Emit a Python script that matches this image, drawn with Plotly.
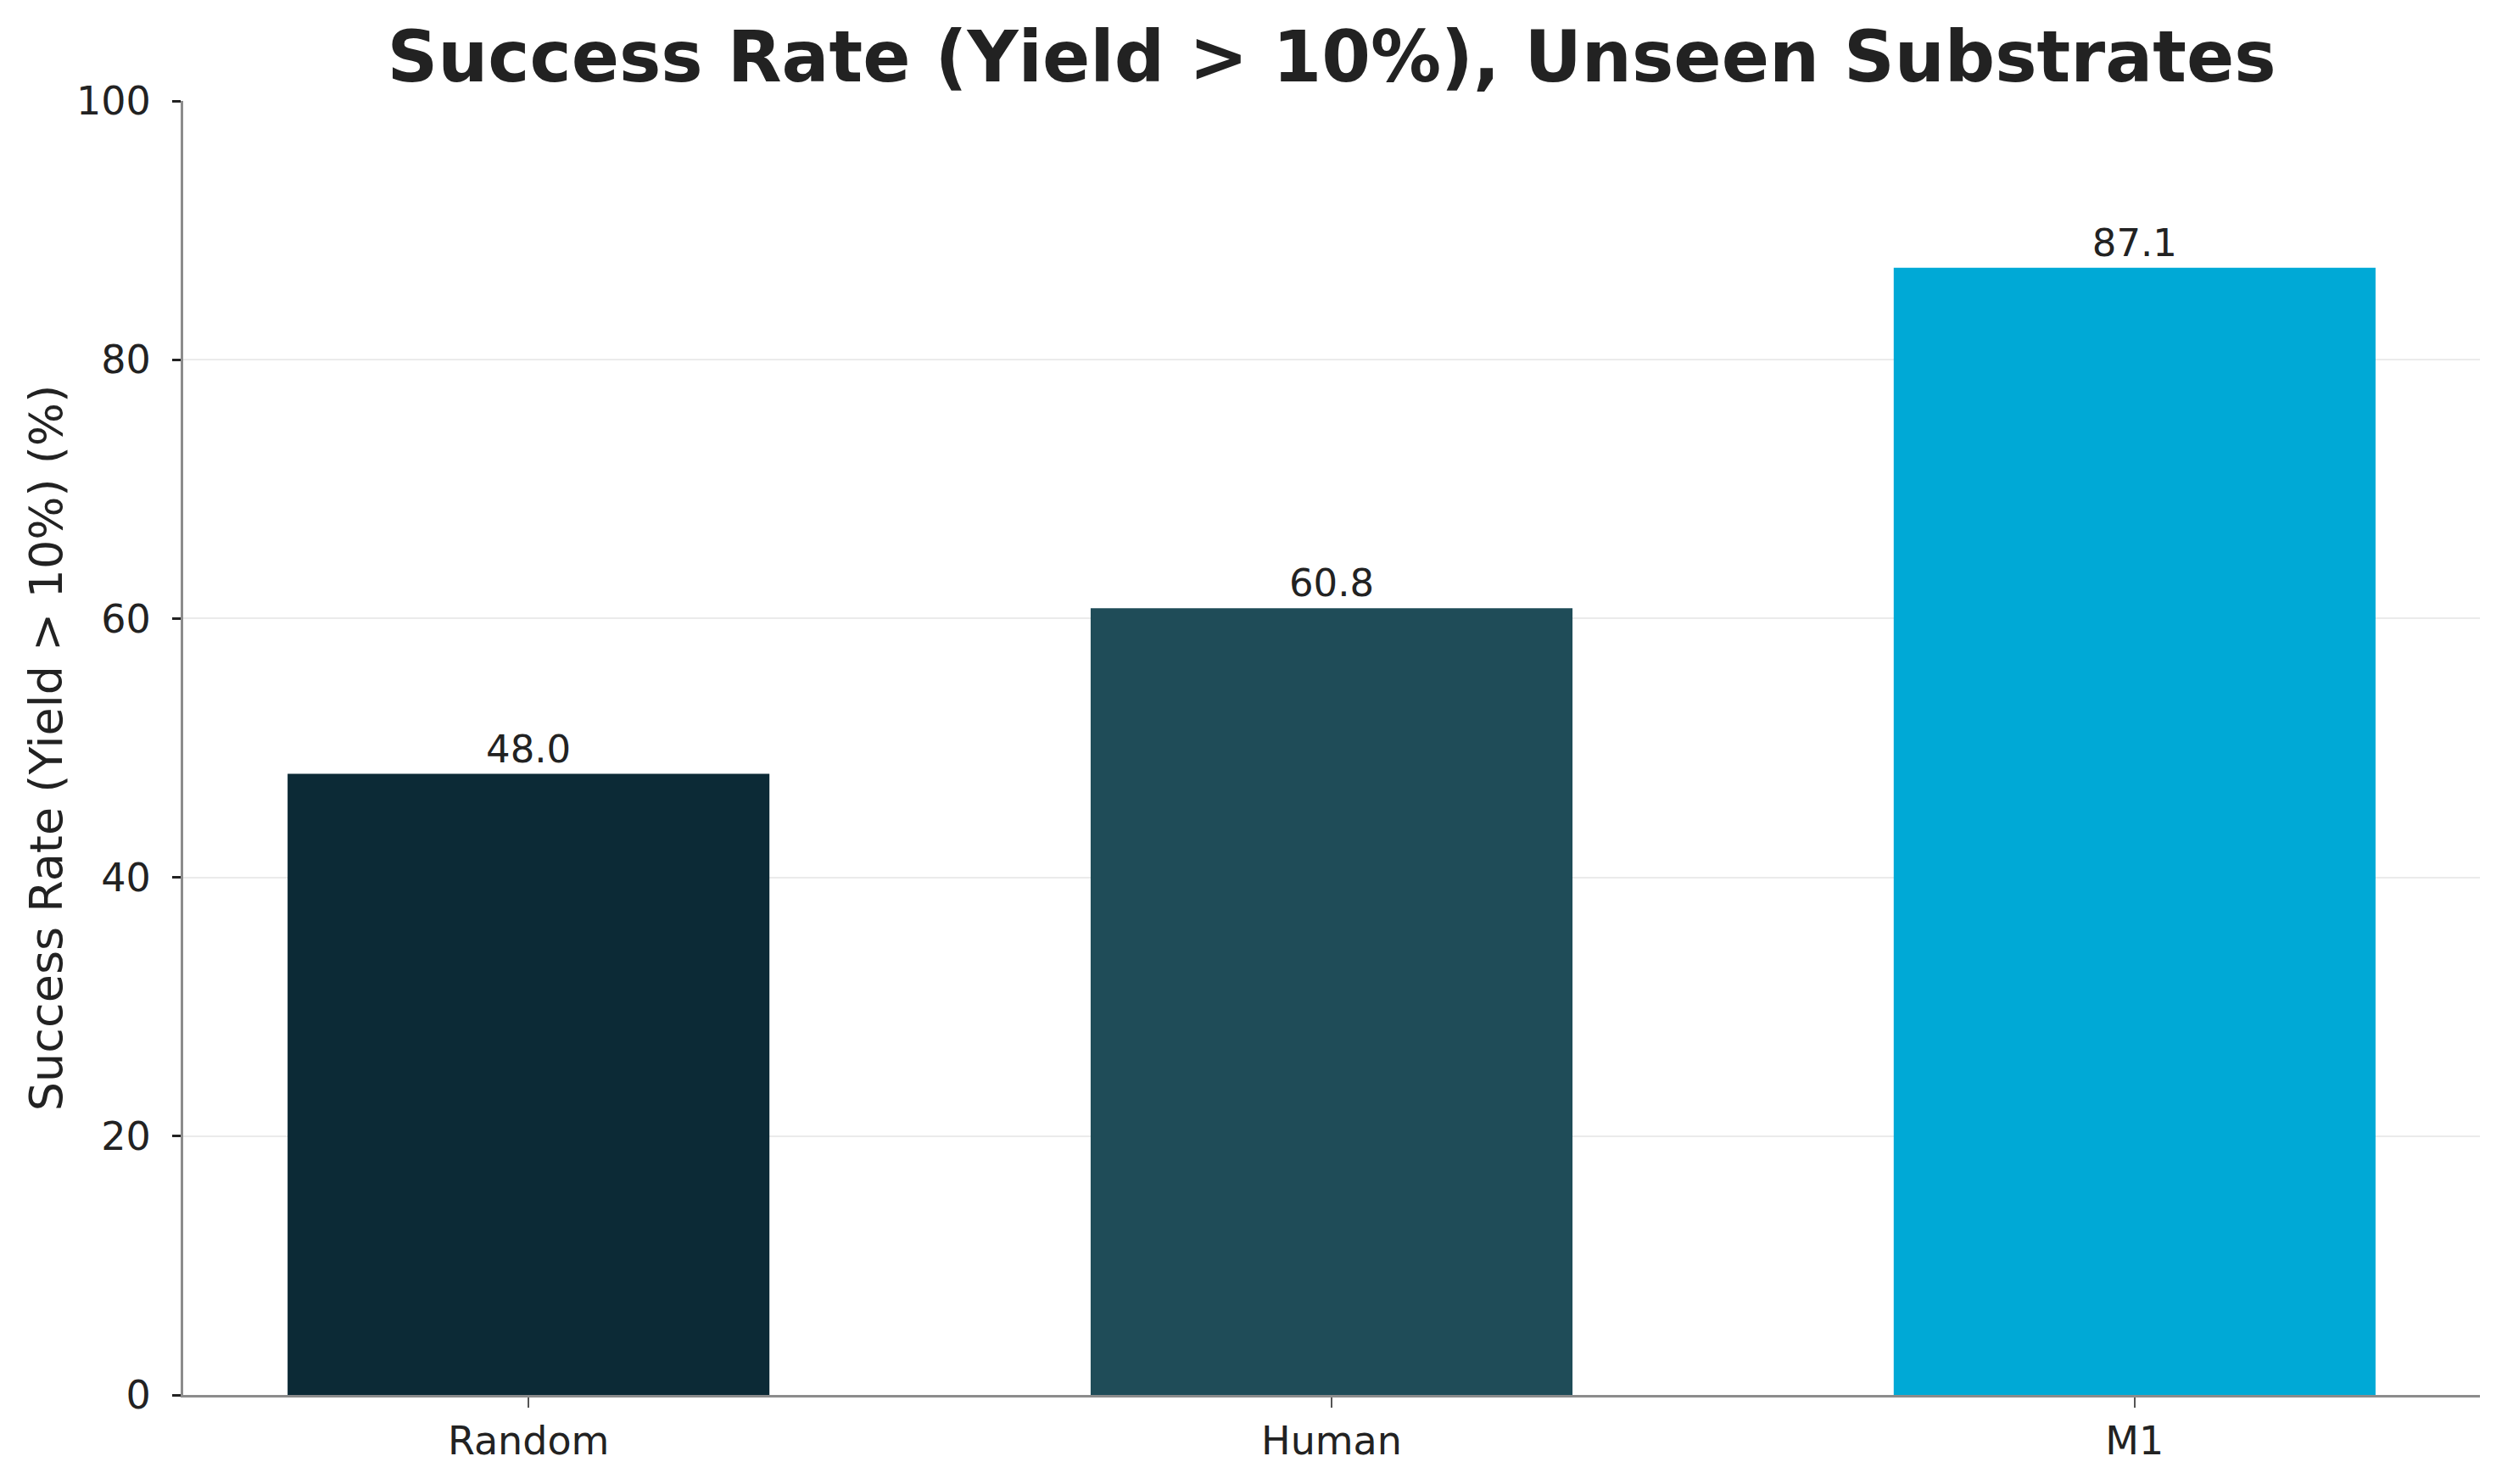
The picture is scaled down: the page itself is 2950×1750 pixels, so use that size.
import plotly.graph_objects as go

# data
methods = ['Random', 'Human', 'M1']
success_rate = [48.0, 60.8, 87.1]
bar_colors = ['#0c2a36', '#1f4c58', '#00a9d6']
y_ticks = [0, 20, 40, 60, 80, 100]

FONT = 'DejaVu Sans'
INK = '#222222'

fig = go.Figure()

fig.add_trace(go.Bar(
	x=methods, y=success_rate,
	marker_color=bar_colors, marker_line_width=0,
	width=0.6,
	texttemplate='%{y:.1f}', textposition='outside',
	textfont=dict(family=FONT, size=45, color=INK),
	cliponaxis=False,
	showlegend=False,
))

fig.update_layout(
	width=2950, height=1750,
	margin=dict(l=208, r=34, t=111, b=113),
	plot_bgcolor='white', paper_bgcolor='white',
	font=dict(family=FONT, color=INK),
	title=dict(
		text='<b>Success Rate (Yield > 10%), Unseen Substrates</b>',
		font=dict(family=FONT, size=83, color=INK),
		x=(208 + (2950 - 208 - 34) / 2) / 2950, xanchor='center',
		y=0.983, yanchor='top',
	),
	bargap=0.4,
)

fig.update_xaxes(
	range=[-0.43, 2.43],
	showline=True, linecolor='#8c8c8c', linewidth=3,
	ticks='outside', ticklen=12, tickwidth=1.5, tickcolor='#555555',
	tickfont=dict(family=FONT, size=46, color=INK),
	showgrid=False,
)

fig.update_yaxes(
	range=[0, 100],
	tickvals=y_ticks,
	showline=True, linecolor='#8c8c8c', linewidth=3,
	ticks='outside', ticklen=10, tickwidth=3, tickcolor=INK,
	tickfont=dict(family=FONT, size=46, color=INK),
	ticklabelstandoff=16,
	showgrid=True, gridcolor='#ebebeb', gridwidth=1.5,
	zeroline=False,
	title=dict(text='Success Rate (Yield > 10%) (%)',
		font=dict(family=FONT, size=54, color=INK), standoff=0),
)

fig.write_html('out.html')
